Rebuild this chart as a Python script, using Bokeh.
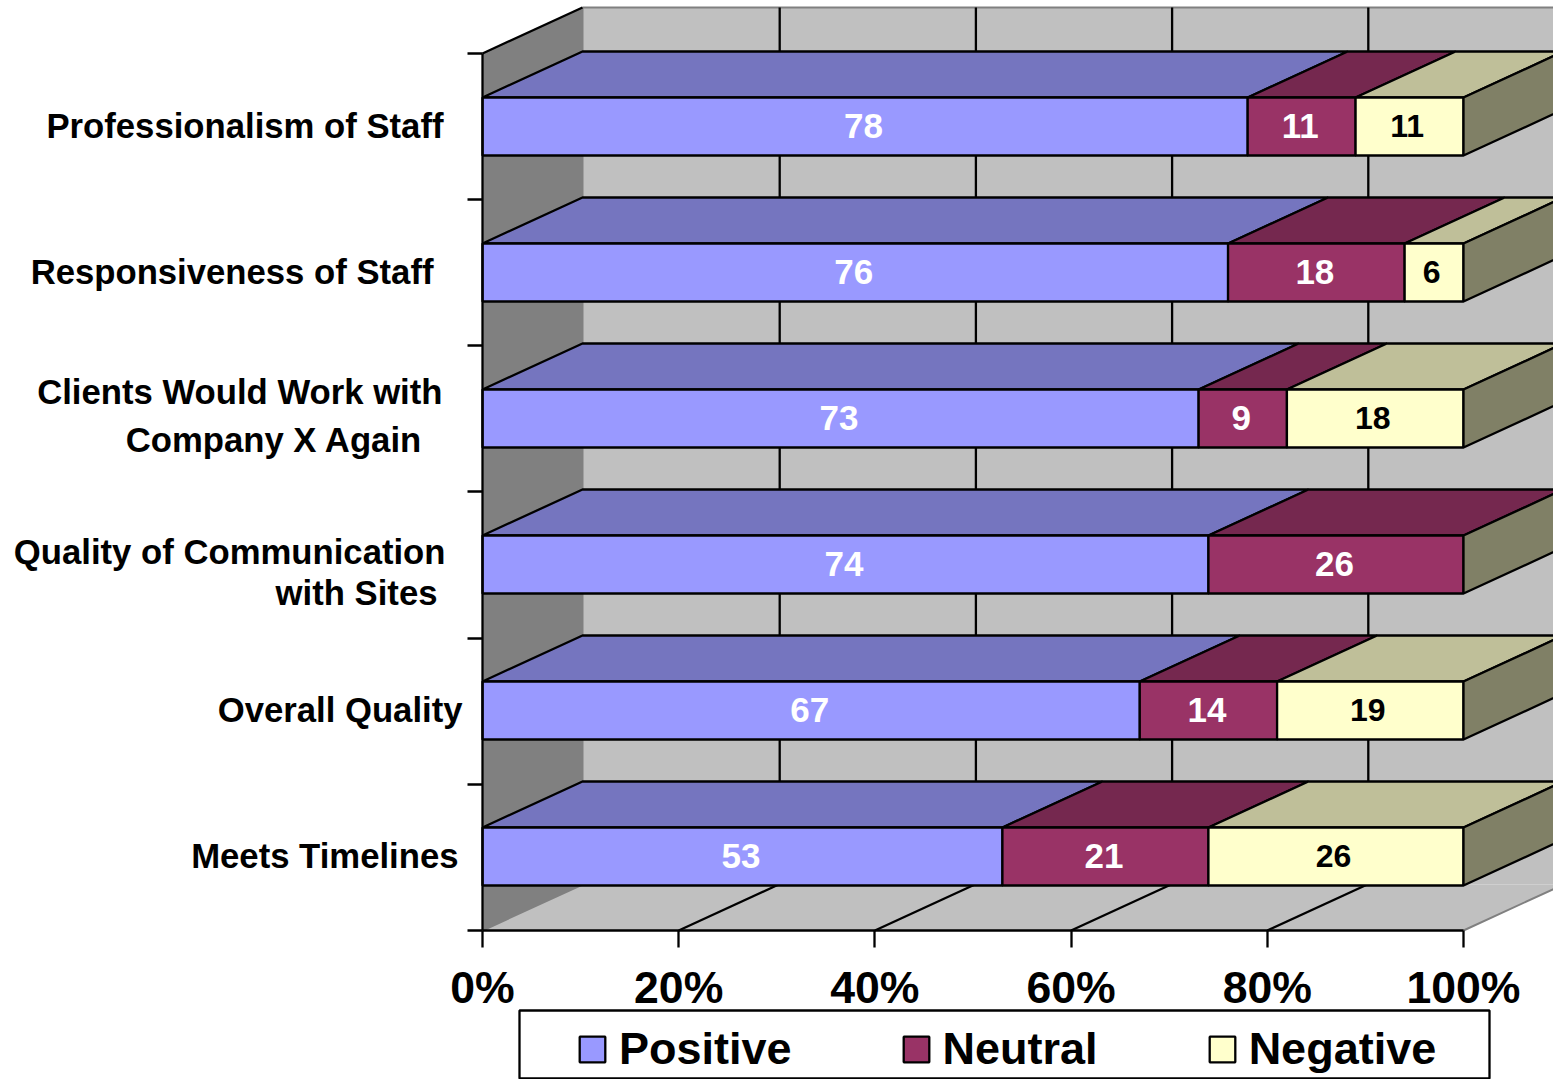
from bokeh.plotting import figure
from bokeh.models import (ColumnDataSource, Range1d, FixedTicker, Legend, LegendItem)
from bokeh.core.properties import value
from bokeh.embed import file_html
from bokeh.resources import INLINE

categories = ["Professionalism of Staff", "Responsiveness of Staff",
              "Clients Would Work with Company X Again",
              "Quality of Communication with Sites", "Overall Quality", "Meets Timelines"]
positive = [78, 76, 73, 74, 67, 53]
neutral = [11, 18, 9, 26, 14, 21]
negative = [11, 6, 18, 0, 19, 26]
series_names = ["Positive", "Neutral", "Negative"]
x_ticks = [0, 20, 40, 60, 80, 100]
x_tick_labels = ["0%", "20%", "40%", "60%", "80%", "100%"]

# label line, right edge in pixels, middle in pixels
label_lines = [
    ("Professionalism of Staff", 443, 125),
    ("Responsiveness of Staff", 433, 271),
    ("Clients Would Work with", 442, 391),
    ("Company X Again", 422, 439),
    ("Quality of Communication", 445, 551),
    ("with Sites", 437, 592),
    ("Overall Quality", 462, 709),
    ("Meets Timelines", 458, 855),
]

W, H = 1553, 1079
LW = 2.3
X0, PXU = 482.0, 9.81      # pixels of 0 % and pixels per percent
Y0, PYU = 930.0, 146.17    # floor line and pixels per category
def X(px): return (px - X0) / PXU
def Y(py): return (Y0 - py) / PYU
DX = 100 / PXU             # depth in x
DY = 46 / PYU              # depth in y
GX = 101 / PXU             # depth of the grid on the back wall
BAR_H = 58 / PYU
BAR_LOW = (Y0 - 885) / PYU # bottom of the lowest bar

p = figure(width=W, height=H, output_backend="svg", toolbar_location=None,
           x_range=Range1d(X(0), X(W)), y_range=Range1d(Y(H), Y(0)),
           min_border=0, outline_line_color=None, background_fill_color="white",
           margin=(0, 0, 0, 0))
p.grid.visible = False

# walls and floor
p.patch([DX, DX + 100 + 20, DX + 100 + 20, DX], [DY, DY, Y(7), Y(7)],
        fill_color="#C0C0C0", line_color=None)
p.patch([0, 100, 100 + DX, DX], [0, 0, DY, DY], fill_color="#C0C0C0", line_color=None)
p.patch([0, DX, DX, 0], [0, DY, Y(7), Y(53)], fill_color="#808080", line_color=None)
p.line([DX, DX + 120], [Y(7), Y(7)], line_color="#808080", line_width=2)
p.line([DX, DX], [DY, Y(7)], line_color="#808080", line_width=2)
p.line([0, DX], [0, DY], line_color="#808080", line_width=2)
p.line([100, 100 + DX, 120], [0, DY, DY], line_color="#808080", line_width=2)
p.line([0, DX], [Y(53), Y(7)], line_color="black", line_width=LW)

# grid on the back wall and on the floor
for t in x_ticks[1:-1]:
    p.line([t + GX, t + GX], [DY, Y(7)], line_color="black", line_width=LW)
    p.line([t, t + DX], [0, DY], line_color="black", line_width=LW)

series = [(positive, "#9999FF", "#7575BF", "white", "35px", 1.5),
          (neutral, "#993366", "#75284F", "white", "35px", 1.5),
          (negative, "#FFFFCC", "#BFBF99", "black", "32px", 2.5)]
n = len(categories)
bottoms = [BAR_LOW + (n - 1 - i) * (146 / PYU) for i in range(n)]
left = [0] * n
legend_items = []
for (vals, front, top, tcolor, tsize, nudge), name in zip(series, series_names):
    idx = [i for i in range(n) if vals[i] > 0]
    l = [left[i] for i in idx]
    r = [left[i] + vals[i] for i in idx]
    b = [bottoms[i] for i in idx]
    t = [bottoms[i] + BAR_H for i in idx]
    p.patches([[a, a + DX, c + DX, c] for a, c in zip(l, r)],
              [[y, y + DY, y + DY, y] for y in t],
              fill_color=top, line_color="black", line_width=LW)
    fronts = p.quad(left=l, right=r, bottom=b, top=t, fill_color=front,
                    line_color="black", line_width=LW)
    legend_items.append(LegendItem(label=name, renderers=[fronts]))
    src = ColumnDataSource(dict(x=[(a + c) / 2 - nudge / PXU for a, c in zip(l, r)],
                                y=[(a + c) / 2 + 1 / PYU for a, c in zip(b, t)],
                                s=[str(vals[i]) for i in idx]))
    p.text("x", "y", "s", source=src, text_color=tcolor, text_align="center",
           text_baseline="middle", text_font=value("Liberation Sans"),
           text_font_style="bold", text_font_size=tsize)
    for i in range(n):
        left[i] += vals[i]

# right side of each stack
p.patches([[100, 100 + DX, 100 + DX, 100] for _ in range(n)],
          [[y, y + DY, y + BAR_H + DY, y + BAR_H] for y in bottoms],
          fill_color="#808066", line_color="black", line_width=LW)

# category labels
src = ColumnDataSource(dict(x=[X(a) for _, a, _ in label_lines],
                            y=[Y(b) for _, _, b in label_lines],
                            s=[s for s, _, _ in label_lines]))
p.text("x", "y", "s", source=src, text_color="black", text_align="right",
       text_baseline="middle", text_font=value("Liberation Sans"),
       text_font_style="bold", text_font_size="34.7px")

# axes
xa = p.xaxis[0]
xa.fixed_location = 0
xa.bounds = (0, 100)
xa.ticker = FixedTicker(ticks=x_ticks)
xa.major_label_overrides = dict(zip(x_ticks, x_tick_labels))
xa.major_tick_out = 17
xa.major_tick_in = 0
xa.minor_tick_line_color = None
xa.major_tick_line_color = "black"
xa.major_tick_line_width = LW
xa.axis_line_color = "black"
xa.axis_line_width = LW
xa.major_label_standoff = 15
xa.major_label_text_font = "Liberation Sans"
xa.major_label_text_font_style = "bold"
xa.major_label_text_font_size = "44.6px"
xa.major_label_text_color = "black"

ya = p.yaxis[0]
ya.fixed_location = 0
ya.bounds = (0, 6)
ya.ticker = FixedTicker(ticks=list(range(7)))
ya.major_label_text_font_size = "0px"
ya.major_label_text_color = None
ya.major_tick_out = 15
ya.major_tick_in = 0
ya.minor_tick_line_color = None
ya.major_tick_line_color = "black"
ya.major_tick_line_width = LW
ya.axis_line_color = "black"
ya.axis_line_width = LW

# legend box, with the library's legend inside it
p.quad(left=[X(519)], right=[X(1489)], bottom=[Y(1078)], top=[Y(1010)],
       fill_color="white", line_color="black", line_width=LW)
legend = Legend(items=legend_items, orientation="horizontal", location=(576, H - 1075),
                spacing=108, padding=0, margin=0, glyph_width=32, glyph_height=32,
                label_standoff=11, label_text_font="Liberation Sans",
                label_text_font_style="bold", label_text_font_size="45px",
                label_text_color="black", border_line_color=None,
                background_fill_alpha=0, label_height=48)
p.add_layout(legend)

open("out.html", "w").write(file_html(p, INLINE))
